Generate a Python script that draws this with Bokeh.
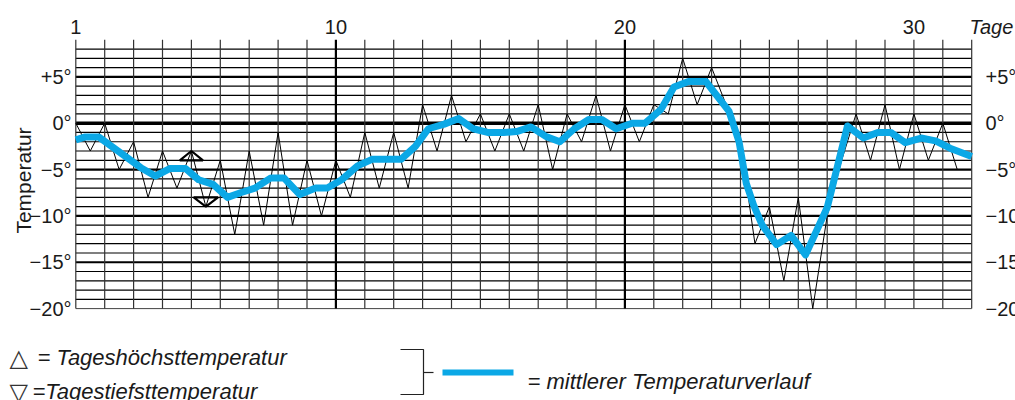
from bokeh.plotting import figure
from bokeh.models import Range1d
from bokeh.core.properties import value
from bokeh.embed import file_html
from bokeh.resources import INLINE

# ---------------- data ----------------
days_hi = list(range(1, 32))                      # daily maxima at whole days
temp_hi = [0, 0, -2, -3, -3, -4, -3, -1, -4, -4, -1, -1, 2, 3, 1, 1,
           2, 1, 3, 2, 2, 7, 6, -2, -9, -8, -10, 1, 2, 1, 0]
days_lo = [d + 0.5 for d in days_hi]              # daily minima at half days
temp_lo = [-3, -5, -8, -7, -9, -12, -11, -11, -10, -8, -7, -7, -3, -2, -3, -3,
           -5, -2, -3, -2, 1, 2, 2, -13, -17, -20, -4, -4, -5, -4, -5]

mean_day = [1.0, 1.3, 1.8, 3.25, 3.75, 4.25, 4.8, 5.25, 5.75, 6.25, 6.7, 7.2,
            7.75, 8.2, 8.75, 9.3, 9.7, 10.2, 10.75, 11.25, 11.75, 12.25, 12.75,
            13.2, 13.75, 14.25, 14.75, 15.25, 15.8, 16.25, 16.75, 17.25, 17.75,
            18.25, 18.75, 19.2, 19.7, 20.25, 20.7, 21.25, 21.7, 22.2, 22.8,
            23.6, 23.95, 24.2, 24.45, 24.75, 25.25, 25.75, 26.25, 27.0, 27.7,
            28.25, 28.75, 29.2, 29.7, 30.25, 30.75, 31.25, 32.0]
mean_temp = [-1.8, -1.5, -1.5, -4.8, -5.7, -4.9, -4.9, -6.1, -6.6, -8.0, -7.5, -7.0,
             -5.9, -5.9, -7.7, -7.0, -7.0, -6.1, -4.6, -3.9, -3.9, -3.9, -2.5,
             -0.6, -0.1, 0.5, -0.6, -1.0, -1.0, -0.9, -0.4, -1.4, -2.0,
             -0.6, 0.4, 0.4, -0.6, 0.0, 0.0, 1.5, 3.9, 4.5, 4.5,
             1.3, -2.0, -6.5, -8.8, -11.0, -13.1, -12.1, -14.2, -9.1, -0.3,
             -1.6, -1.0, -1.0, -2.1, -1.6, -1.9, -2.7, -3.6]

x_ticks = [1, 10, 20, 30]
x_tick_labels = ["1", "10", "20", "30"]
y_ticks = [5, 0, -5, -10, -15, -20]
y_tick_labels = ["+5°", "0°", "−5°", "−10°", "−15°", "−20°"]
grid_days = list(range(1, 33))
grid_temps = list(range(-20, 9))
marker_index = 4   # day 5: example markers for max / min

# ---------------- geometry ----------------
W, H = 1015, 400
OFF = 0
X0, DX = 75.3, 28.9     # image px of day 1, px per day
Y0, DY = 122.7, 9.27    # image px of 0°, px per degree

p = figure(width=W, height=H, output_backend="svg", toolbar_location=None,
           x_range=Range1d(1 + (OFF - X0) / DX, 1 + (OFF + W - X0) / DX),
           y_range=Range1d((Y0 - (OFF + H)) / DY, (Y0 - OFF) / DY),
           x_axis_location=None, y_axis_location=None, min_border=0)
p.extra_x_ranges = {"px": Range1d(OFF, OFF + W)}
p.extra_y_ranges = {"px": Range1d(OFF + H, OFF)}
p.xgrid.visible = False
p.ygrid.visible = False
p.outline_line_color = None
p.background_fill_color = "white"
p.border_fill_color = "white"

FONT = value("Liberation Sans")
TXT = "#1a1a1a"

# ---------------- grid ----------------
h_w = []
h_c = []
for t in grid_temps:
    if t == 0:
        h_w.append(3.4); h_c.append("black")
    elif t == -20:
        h_w.append(1.0); h_c.append("#444444")
    elif t % 5 == 0:
        h_w.append(2.2); h_c.append("black")
    else:
        h_w.append(1.2); h_c.append("black")
p.segment(x0=[grid_days[0]] * len(grid_temps), x1=[grid_days[-1]] * len(grid_temps),
          y0=grid_temps, y1=grid_temps, line_width=h_w, line_color=h_c)

v_w = [2.2 if d in (10, 20) else 1.2 for d in grid_days]
v_c = ["black" if d in (10, 20) else "#333333" for d in grid_days]
p.segment(x0=grid_days, x1=grid_days, y0=[grid_temps[0]] * len(grid_days),
          y1=[grid_temps[-1] + 1] * len(grid_days), line_width=v_w, line_color=v_c)

# ---------------- daily max / min zigzag ----------------
zz_x, zz_y = [], []
for dh, th, dl, tl in zip(days_hi, temp_hi, days_lo, temp_lo):
    zz_x += [dh, dl]
    zz_y += [th, tl]
p.line(zz_x, zz_y, line_color="black", line_width=1.0)

# example markers
dm, tm = days_hi[marker_index], temp_hi[marker_index]
dl, tl = days_lo[marker_index], temp_lo[marker_index]
p.patches(xs=[[dm - 0.4, dm, dm + 0.4], [dl - 0.42, dl, dl + 0.42]],
          ys=[[tm - 1, tm, tm - 1], [tl + 1, tl, tl + 1]],
          fill_color=None, line_color="black", line_width=2.2)

# ---------------- mean ----------------
p.line(mean_day, mean_temp, line_color="#0BA8E6", line_width=7, line_join="round")

# ---------------- tick labels ----------------
p.text(x=[71] * len(y_ticks), y=y_ticks, text=y_tick_labels, x_range_name="px",
       text_align="right", text_baseline="middle", text_font=FONT,
       text_font_size="20px", text_color=TXT)
p.text(x=[985] * len(y_ticks), y=y_ticks, text=y_tick_labels, x_range_name="px",
       text_align="left", text_baseline="middle", text_font=FONT,
       text_font_size="20px", text_color=TXT)
p.text(x=x_ticks, y=[26] * len(x_ticks), text=x_tick_labels, y_range_name="px",
       text_align="center", text_baseline="alphabetic", text_font=FONT,
       text_font_size="20px", text_color=TXT)
p.text(x=[969], y=[26], text=["Tage"], x_range_name="px", y_range_name="px",
       text_align="left", text_baseline="alphabetic", text_font=FONT,
       text_font_style="italic", text_font_size="20px", text_color=TXT)
p.text(x=[23], y=[180], text=["Temperatur"], x_range_name="px", y_range_name="px",
       angle=1.5708, text_align="center", text_baseline="alphabetic", text_font=FONT,
       text_font_size="21px", text_color=TXT)

# ---------------- legend ----------------
p.text(x=[9, 9], y=[357, 391], text=["△", "▽"], x_range_name="px", y_range_name="px",
       text_align="left", text_baseline="alphabetic", text_font=value("DejaVu Sans"),
       text_font_size="24px", text_color="#333333")
p.text(x=[37, 32], y=[357, 391], text=["= Tageshöchsttemperatur", "=Tagestiefsttemperatur"],
       x_range_name="px", y_range_name="px", text_align="left", text_baseline="alphabetic",
       text_font=FONT, text_font_style="italic", text_font_size="22px", text_color=TXT)
p.line(x=[400, 423, 423, 400], y=[349, 349, 394, 394], x_range_name="px", y_range_name="px",
       line_color="#222222", line_width=1.2)
p.line(x=[423, 433], y=[372, 372], x_range_name="px", y_range_name="px",
       line_color="#222222", line_width=1.2)
p.line(x=[442, 513], y=[372, 372], x_range_name="px", y_range_name="px",
       line_color="#0BA8E6", line_width=6)
p.text(x=[527], y=[381], text=["= mittlerer Temperaturverlauf"], x_range_name="px",
       y_range_name="px", text_align="left", text_baseline="alphabetic", text_font=FONT,
       text_font_style="italic", text_font_size="22px", text_color=TXT)

open("out.html", "w").write(file_html(p, INLINE))
